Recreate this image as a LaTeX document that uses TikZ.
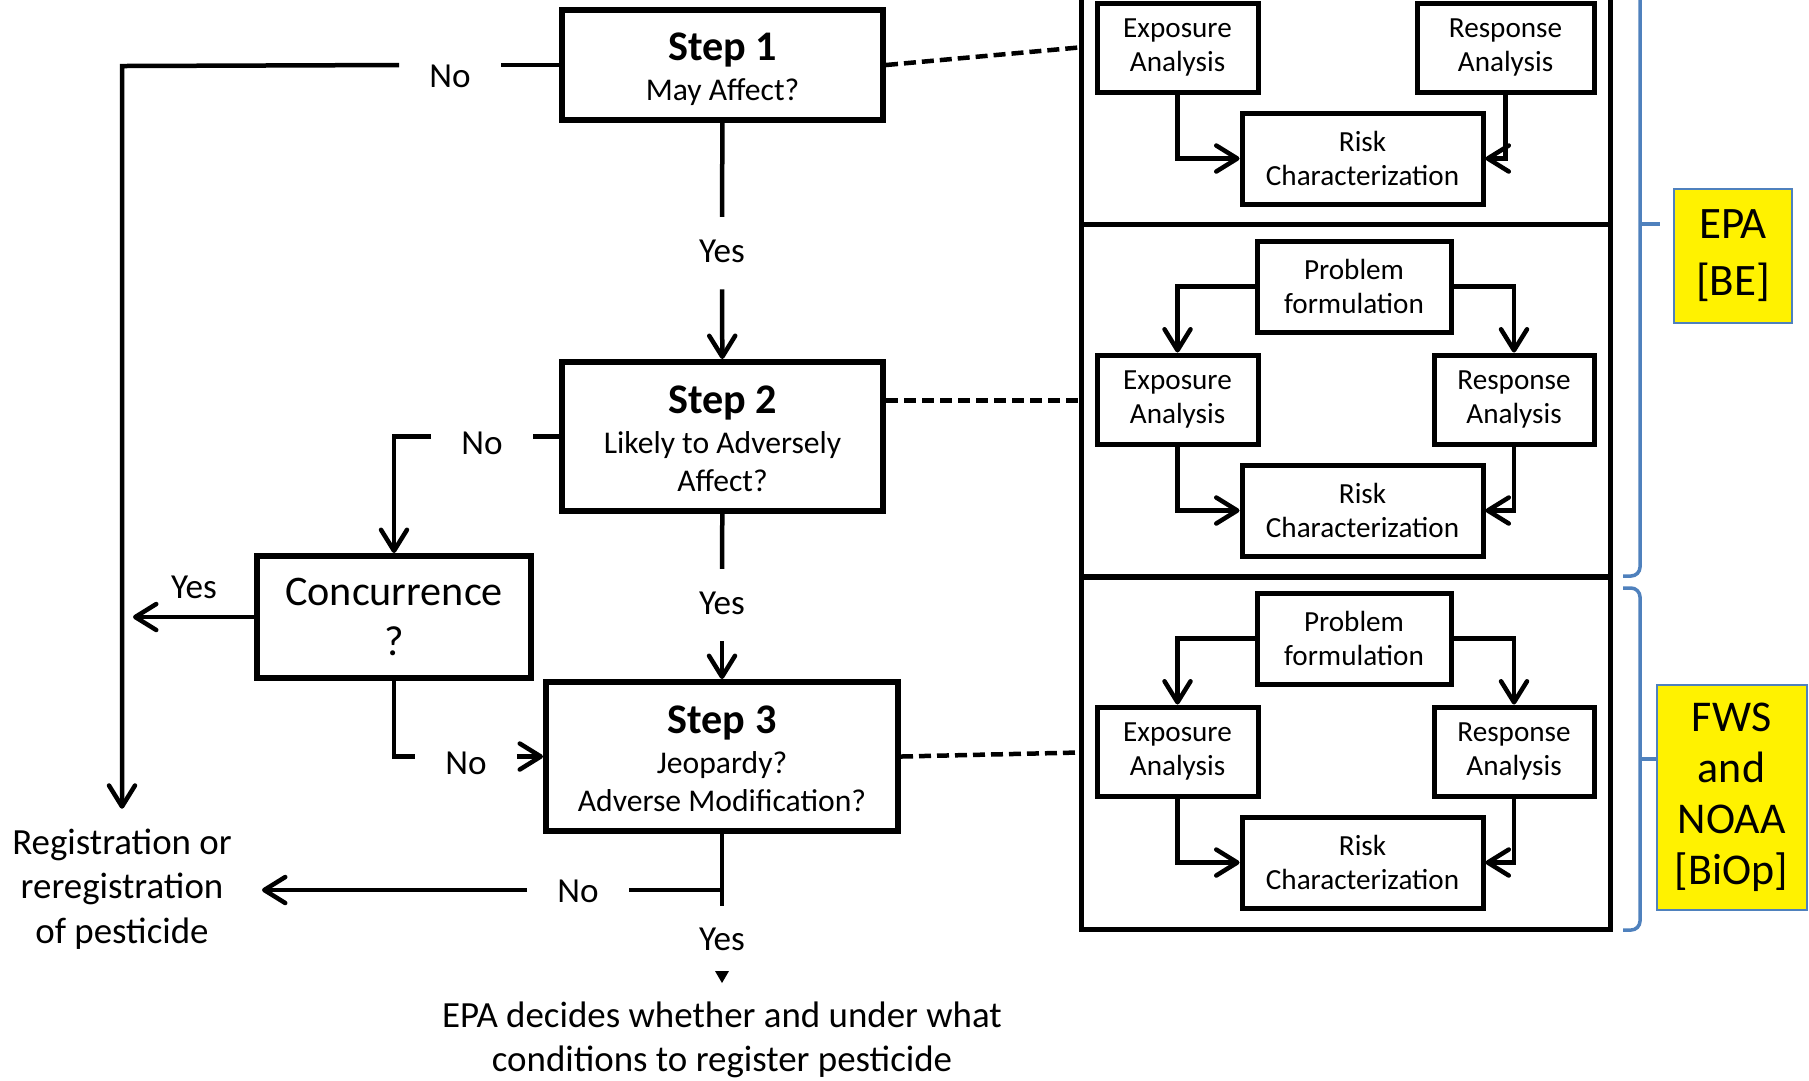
\documentclass[tikz,border=0pt]{standalone}
\usepackage{fontspec}
\setmainfont{Carlito}
\usepackage{xcolor}
\usetikzlibrary{arrows.meta,calc}
\definecolor{braceblue}{RGB}{79,129,189}

\begin{document}
\begin{tikzpicture}[x=0.1mm,y=-0.1mm,line width=0.45mm,
    >={Straight Barb[round,length=2.1mm,width=2.6mm]},
    stepbox/.style={draw,line width=0.6mm,align=center,inner sep=0pt,font=\fontsize{9}{10.8}\selectfont},
    sbox/.style={draw,line width=0.5mm,align=center,inner sep=0pt,minimum height=8.9mm,font=\fontsize{8.3}{9.7}\selectfont},
    panel/.style={draw,line width=0.5mm,minimum width=52.9mm,inner sep=0pt},
    lbl/.style={font=\fontsize{10}{12}\selectfont,inner xsep=2.8mm,inner ysep=2mm,text height=2.3mm,text depth=0.5mm},
    txt/.style={align=center,font=\fontsize{10.5}{12.6}\selectfont},
    dashln/.style={dash pattern=on 1.2mm off 0.6mm},
    brc/.style={draw=braceblue,line width=0.35mm,rounded corners=0.9mm},
    tag/.style={draw=braceblue,fill=yellow,line width=0.2mm,align=center,inner sep=0pt}]
    \useasboundingbox (0,0) rectangle (1809,1080);
    \clip (0,0) rectangle (1809,1080);

    \node[stepbox,minimum width=32.1mm,minimum height=11mm] (s1) at (722.5,65)
        {\rule{0pt}{3.7mm}{\fontsize{12}{14}\bfseries Step 1}\\[0.2mm] May Affect?};
    \node[stepbox,minimum width=32.1mm,minimum height=14.9mm] (s2) at (722.5,436.5)
        {\rule{0pt}{3.3mm}{\fontsize{12}{14}\bfseries Step 2}\\[0.2mm] Likely to Adversely\\ Affect?};
    \node[stepbox,minimum width=35.2mm,minimum height=14.9mm] (s3) at (722,756.5)
        {\rule{0pt}{3.3mm}{\fontsize{12}{14}\bfseries Step 3}\\[0.2mm] Jeopardy?\\ Adverse Modification?};
    \node[stepbox,minimum width=27.4mm,minimum height=12.2mm,font=\fontsize{12}{14}\selectfont] (conc) at (394,617)
        {Concurrence\\ ?};
    \node[txt,inner xsep=2.8mm,inner ysep=1.8mm] (reg) at (122,889)
        {Registration or\\ reregistration\\ of pesticide};
    \node[txt] (ep) at (722,1040) {EPA decides whether and under what\\ conditions to register pesticide};

    \node[lbl] (no1) at (450,78) {No};
    \node[lbl] (yes1) at (722,253) {Yes};
    \node[lbl] (no2) at (482,445) {No};
    \node[lbl] (yes2) at (722,605) {Yes};
    \node[lbl] (yesc) at (194,589) {Yes};
    \node[lbl] (noc) at (466,765) {No};
    \node[lbl] (no3) at (578,893) {No};
    \node[lbl] (yes3) at (722,941) {Yes};

    \coordinate (c1) at (122,66);
    \coordinate (s3end) at (722,906);
    \coordinate (tip) at (722,983);

    \draw (s1.west) -- (no1.east |- s1.west);
    \draw[->] (no1.west |- s1.west) -- (c1) -- (c1 |- reg.north);
    \draw (s1) -- (yes1);
    \draw[->] (yes1) -- (s2);
    \draw (s2.west) -- (no2.east |- s2.west);
    \draw[->] (no2.west |- s2.west) -| (conc.north);
    \draw (s2) -- (yes2);
    \draw[->] (yes2) -- (s3);
    \draw[->] (conc.west) -- ([xshift=1.1mm]c1 |- conc.west);
    \draw (conc.south) |- (noc.west |- s3.west);
    \draw[->] (noc.east |- s3.west) -- (s3.west);
    \draw (s3.south) -- (s3end);
    \draw (s3end |- 0,890) -- (no3.east |- 0,890);
    \draw[->] (no3.west |- 0,890) -- (reg.east |- 0,890);
    \fill (tip) -- ++(-7,-12) -- ++(14,0) -- cycle;

    \foreach \k/\dy/\py/\rx/\rw in {1/0/0/1505.5/17.7,2/352/353/1514/16,3/704/705/1514/16}{
        \node[panel,minimum height=35.3mm] (pan\k) at (1345.5,47.5+\py) {};
        \node[sbox,minimum width=16.1mm] (ex\k) at (1177.5,47.5+\dy) {Exposure\\ Analysis};
        \node[sbox,minimum width=\rw mm] (re\k) at (\rx,47.5+\dy) {Response\\ Analysis};
        \node[sbox,minimum width=24.1mm,minimum height=9.1mm] (rc\k) at (1362.5,158.5+\dy) {Risk\\ Characterization};
        \draw[->] (ex\k) |- (rc\k);
        \draw[->] (re\k) |- (rc\k);
    }
    \foreach \k/\dy in {2/352,3/704}{
        \node[sbox,minimum width=19.4mm,minimum height=9.1mm] (pf\k) at (1354,-65.5+\dy) {Problem\\ formulation};
        \draw[->] (pf\k) -| (ex\k);
        \draw[->] (pf\k) -| (re\k);
    }

    \draw[dashln] (s1.east) -- (pan1.west);
    \draw[dashln] (s2.east |- pan2.west) -- (pan2.west);
    \draw[dashln] (s3.east) -- (pan3.west);

    \draw[brc] (1623,-129) -- (1640,-129) -- (1640,576) -- (1623,576);
    \draw[brc] (1640,224) -- (1660,224);
    \draw[brc] (1623,588) -- (1640,588) -- (1640,930) -- (1623,930);
    \draw[brc] (1640,759) -- (1657,759);
    \node[tag,minimum width=11.8mm,minimum height=13.4mm,font=\fontsize{12.8}{16.2}\selectfont] (epa) at (1733,256)
        {EPA\\ {[BE]}};
    \node[tag,minimum width=15mm,minimum height=22.5mm,font=\fontsize{12.5}{14.5}\selectfont] (fws) at (1731.5,797)
        {FWS\\ and\\ NOAA\\ {[BiOp]}};
\end{tikzpicture}
\end{document}
